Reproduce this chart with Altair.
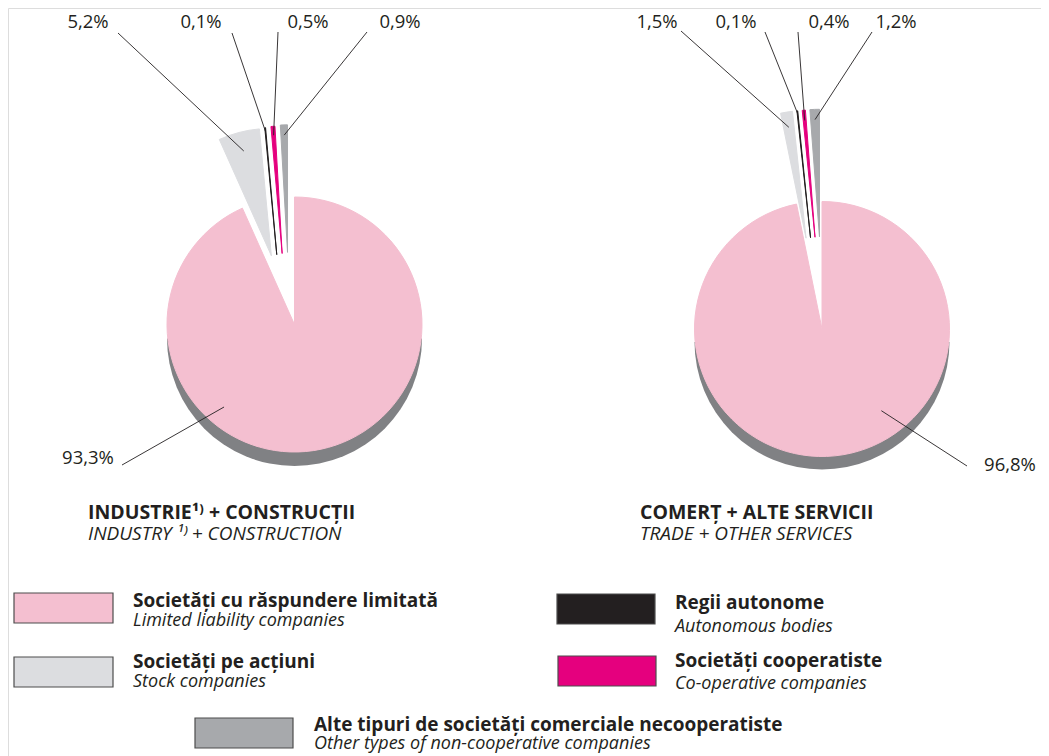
import math
import altair as alt
import pandas as pd

# ---------------- data ----------------
categories_ro = [
    "Societăți cu răspundere limitată",
    "Societăți pe acțiuni",
    "Regii autonome",
    "Societăți cooperatiste",
    "Alte tipuri de societăți comerciale necooperatiste",
]
categories_en = [
    "Limited liability companies",
    "Stock companies",
    "Autonomous bodies",
    "Co-operative companies",
    "Other types of non-cooperative companies",
]
industry_values = [93.3, 5.2, 0.1, 0.5, 0.9]
trade_values = [96.8, 1.5, 0.1, 0.4, 1.2]
panel_titles_ro = ["INDUSTRIE¹⁾ + CONSTRUCȚII", "COMERȚ + ALTE SERVICII"]
panel_titles_en = ["INDUSTRY ¹⁾ + CONSTRUCTION", "TRADE + OTHER SERVICES"]

# ---------------- style / layout ----------------
slice_colors = ["#f4bfd0", "#dcdde0", "#231f20", "#e5007e", "#a7a9ac"]
legend_colors = ["#f6d0dc", "#dcdde0", "#231f20", "#e5007e", "#a7a9ac"]
shadow_color = "#808184"
text_color = "#231f20"
FONT = "Open Sans"
M = 8  # page margin
W, H = 1033, 748
R = 127.5

pies = [
    dict(values=industry_values, cx=294.5, cy=324.5, explode=72, gap=5.5, shadow=14,
         label_pos=[(88, 458), (88, 22), (201, 22), (308, 22), (400, 22)],
         line_out=[(122, 465), (118, 33), (232, 33), (278, 32), (367, 32)],
         anchor_big=(220.5, 108.5), anchor_frac=[0.85, 0.97, 0.93, 0.92],
         title_x=88),
    dict(values=trade_values, cx=822, cy=329, explode=92, gap=4.5, shadow=13,
         label_pos=[(1010, 465), (657, 22), (736, 22), (829, 22), (896, 22)],
         line_out=[(967, 466), (681, 31), (765, 32), (798, 32), (872, 32)],
         anchor_big=(144, 101), anchor_frac=[0.88, 0.98, 0.92, 0.92],
         title_x=640),
]

def fmt(v):
    return f"{v:.1f}".replace(".", ",") + "%"

arc_rows, shadow_rows, label_rows, line_rows = [], [], [], []
title_b, title_i = [], []
for p_i, p in enumerate(pies):
    vals = p["values"]
    cx, cy = p["cx"], p["cy"]
    cum = 0.0
    starts, ends = [], []
    for v in vals:
        starts.append(cum / 100 * 2 * math.pi)
        cum += v
        ends.append(cum / 100 * 2 * math.pi)
    # group direction for the exploded small slices
    g0, g1 = starts[1], ends[-1]
    mid = (g0 + g1) / 2
    dx, dy = math.sin(mid), -math.cos(mid)
    px, py = math.cos(mid), math.sin(mid)
    bx, by = cx + p["explode"] * dx, cy + p["explode"] * dy
    centers = [(cx, cy)]
    for k in range(1, len(vals)):
        off = (k - 1 - 1.5) * p["gap"]
        centers.append((bx + off * px, by + off * py))
    for k, v in enumerate(vals):
        arc_rows.append(dict(pie=p_i, cat=categories_ro[k], value=v,
                             t0=starts[k], t1=ends[k],
                             x=centers[k][0] - M, y=centers[k][1] - M,
                             order=k))
    shadow_rows.append(dict(x=cx - M, y=cy + p["shadow"] - M, t0=math.pi / 2, t1=3 * math.pi / 2))
    # labels and leader lines
    for k, v in enumerate(vals):
        lx, ly = p["label_pos"][k]
        label_rows.append(dict(x=lx - M, y=ly - M, text=fmt(v)))
        ox, oy = p["line_out"][k]
        if k == 0:
            ang = math.radians(p["anchor_big"][0])
            rr = p["anchor_big"][1]
            ix, iy = cx + rr * math.sin(ang), cy - rr * math.cos(ang)
        else:
            a = (starts[k] + ends[k]) / 2
            rr = R * p["anchor_frac"][k - 1]
            ix, iy = centers[k][0] + rr * math.sin(a), centers[k][1] - rr * math.cos(a)
        line_rows.append(dict(x=ox - M, y=oy - M, x2=ix - M, y2=iy - M))
    title_b.append(dict(x=p["title_x"] - M, y=519 - M, text=panel_titles_ro[p_i]))
    title_i.append(dict(x=p["title_x"] - M, y=540 - M, text=panel_titles_en[p_i]))

arcs = pd.DataFrame(arc_rows)
shadows = pd.DataFrame(shadow_rows)
labels = pd.DataFrame(label_rows)
lines = pd.DataFrame(line_rows)

# legend layout
legend_boxes = [(14, 593, 113, 623), (14, 657, 113, 687), (557, 594, 655, 624),
                (558, 656, 656, 686), (195, 718, 293, 748)]
legend_text_x = [133, 133, 675, 675, 314]
legend_bold_y = [607, 668, 609, 667, 731]
legend_ital_y = [625.5, 686.5, 632, 688.5, 748.5]
leg = pd.DataFrame(dict(
    cat=categories_ro, en=categories_en,
    x=[b[0] - M for b in legend_boxes], y=[b[1] - M for b in legend_boxes],
    x2=[b[2] - M for b in legend_boxes], y2=[b[3] - M for b in legend_boxes],
    tx=[t - M for t in legend_text_x],
    by=[t - M for t in legend_bold_y], iy=[t - M for t in legend_ital_y],
))

X = lambda f: alt.X(f, type="quantitative", scale=None, axis=None)
Y = lambda f: alt.Y(f, type="quantitative", scale=None, axis=None)

color_scale = alt.Scale(domain=categories_ro, range=slice_colors)

shadow_layer = alt.Chart(shadows).mark_arc(outerRadius=R, color=shadow_color).encode(
    x=X("x"), y=Y("y"),
    theta=alt.Theta("t0:Q", scale=None), theta2=alt.Theta2("t1"),
)
arc_layer = alt.Chart(arcs).mark_arc(outerRadius=R, strokeWidth=1.0).encode(
    x=X("x"), y=Y("y"),
    theta=alt.Theta("t0:Q", scale=None), theta2=alt.Theta2("t1"),
    color=alt.Color("cat:N", scale=color_scale, legend=None),
    stroke=alt.Stroke("cat:N", scale=color_scale, legend=None),
)
line_layer = alt.Chart(lines).mark_rule(color=text_color, strokeWidth=0.9).encode(
    x=X("x"), y=Y("y"), x2="x2", y2="y2",
)
label_layer = alt.Chart(labels).mark_text(font=FONT, fontSize=18.5, color=text_color,
                                          align="center", baseline="middle").encode(
    x=X("x"), y=Y("y"), text="text:N",
)
tb_layer = alt.Chart(pd.DataFrame(title_b)).mark_text(
    font=FONT, fontSize=19.5, fontWeight="bold", color=text_color, align="left",
    baseline="alphabetic").encode(x=X("x"), y=Y("y"), text="text:N")
ti_layer = alt.Chart(pd.DataFrame(title_i)).mark_text(
    font=FONT, fontSize=19, fontStyle="italic", color=text_color, align="left",
    baseline="alphabetic").encode(x=X("x"), y=Y("y"), text="text:N")

legend_box = alt.Chart(leg).mark_rect(stroke="#4d4d4d", strokeWidth=1.2).encode(
    x=X("x"), y=Y("y"), x2="x2", y2="y2",
    color=alt.Color("cat:N", scale=alt.Scale(domain=categories_ro, range=legend_colors), legend=None),
)
legend_bold = alt.Chart(leg).mark_text(
    font=FONT, fontSize=19, fontWeight="bold", color=text_color, align="left",
    baseline="alphabetic").encode(x=X("tx"), y=Y("by"), text="cat:N")
legend_ital = alt.Chart(leg).mark_text(
    font=FONT, fontSize=18, fontStyle="italic", color=text_color, align="left",
    baseline="alphabetic").encode(x=X("tx"), y=Y("iy"), text="en:N")

chart = alt.layer(
    shadow_layer, arc_layer, line_layer, label_layer, tb_layer, ti_layer,
    legend_box, legend_bold, legend_ital,
).properties(
    width=W, height=H, padding=0, autosize=alt.AutoSizeParams(type="none"),
).configure_view(stroke=None).configure(background="white")

chart.save("out.html", embed_options={"renderer": "svg", "actions": False})
